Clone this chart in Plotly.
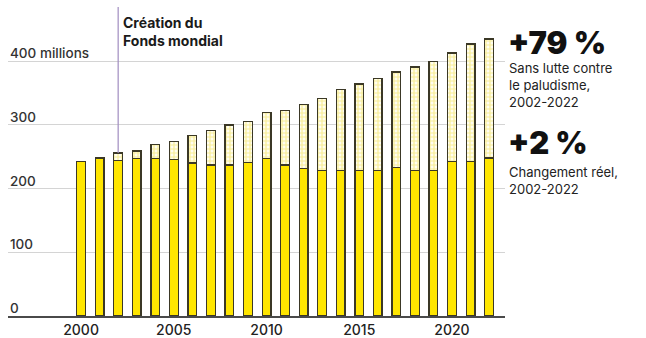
import plotly.graph_objects as go

# Malaria cases per year (millions)
annees = list(range(2000, 2023))
cas_reels = [243, 248, 244, 247, 247, 246, 240, 237, 237, 241, 247, 237, 232,
             228, 228, 228, 228, 233, 228, 228, 243, 243, 248]
sans_lutte = [243, 248, 256, 259, 269, 274, 283, 291, 300, 305, 319, 323, 332,
              341, 355, 364, 373, 383, 391, 400, 413, 427, 435]
ecart = [s - r for s, r in zip(sans_lutte, cas_reels)]

y_ticks = [0, 100, 200, 300, 400]
y_labels = ["0", "100", "200", "300", "400 millions"]
x_ticks = [2000, 2005, 2010, 2015, 2020]

FONT = "Inter"
JAUNE = "#ffe600"
CONTOUR = "#3b3826"
Y_MAX = 485

fig = go.Figure()
fig.add_trace(go.Bar(
    x=annees, y=cas_reels, width=0.47,
    marker=dict(color=JAUNE, line=dict(color=CONTOUR, width=1.3)),
    hoverinfo="x+y",
))
fig.add_trace(go.Bar(
    x=annees, y=ecart, width=0.47,
    marker=dict(
        color="#fff8c8",
        line=dict(color=CONTOUR, width=1.3),
        pattern=dict(shape="+", fgcolor="#f0dc3c", bgcolor="#fffdf0",
                     size=4, solidity=0.5),
    ),
    hoverinfo="x+y",
))

# y-axis labels sitting just above their gridlines
for v, lab in zip(y_ticks, y_labels):
    fig.add_annotation(x=0, y=v, xref="paper", yref="y", xanchor="left",
                       yanchor="bottom", yshift=-2, showarrow=False, text=lab,
                       font=dict(family=FONT, size=13.5, color="#333",
                                 weight=500))

# Global Fund creation marker
fig.add_shape(type="line", xref="x", yref="paper",
              x0=2002, x1=2002, y0=sans_lutte[2] / Y_MAX, y1=1,
              line=dict(color="#a08cc0", width=1.2))
fig.add_annotation(x=2002, y=446, xref="x", yref="y", xanchor="left",
                   yanchor="middle", xshift=3, showarrow=False, align="left",
                   text="<b>Création du<br>Fonds mondial</b>",
                   font=dict(family=FONT, size=14, color="#1a1a1a"))

# Side notes
fig.add_annotation(x=1, y=430, xref="paper", yref="y", xanchor="left",
                   yanchor="middle", xshift=1, showarrow=False,
                   text="+79 %",
                   font=dict(family=FONT, size=31, color="#111", weight=900))
fig.add_annotation(x=1, y=362, xref="paper", yref="y", xanchor="left",
                   yanchor="middle", xshift=2, showarrow=False, align="left",
                   text="Sans lutte contre<br>le paludisme,<br>2002-2022",
                   font=dict(family=FONT, size=13, color="#222"))
fig.add_annotation(x=1, y=272, xref="paper", yref="y", xanchor="left",
                   yanchor="middle", xshift=1, showarrow=False,
                   text="+2 %",
                   font=dict(family=FONT, size=31, color="#111", weight=900))
fig.add_annotation(x=1, y=212, xref="paper", yref="y", xanchor="left",
                   yanchor="middle", xshift=2, showarrow=False, align="left",
                   text="Changement réel,<br>2002-2022",
                   font=dict(family=FONT, size=13, color="#222"))

fig.update_layout(
    width=646, height=338,
    margin=dict(l=8, r=141, t=7, b=22, autoexpand=False),
    barmode="stack",
    showlegend=False,
    plot_bgcolor="white",
    paper_bgcolor="white",
    font=dict(family=FONT, color="#222"),
    xaxis=dict(range=[1996.06, 2022.86], tickvals=x_ticks, ticks="",
               automargin=False,
               showgrid=False, zeroline=False, showline=True,
               linecolor="#4a4a4a", linewidth=1.5,
               tickfont=dict(family=FONT, size=14, color="#222", weight=500)),
    yaxis=dict(range=[0, Y_MAX], tickvals=y_ticks, showticklabels=False,
               automargin=False,
               ticks="", showgrid=True, gridcolor="#d4d4d4", gridwidth=1,
               zeroline=False, showline=False),
)

fig.write_html("out.html")
